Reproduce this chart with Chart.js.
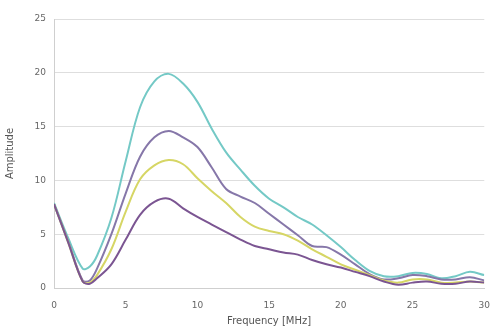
<!DOCTYPE html>
<html>
<head>
<meta charset="utf-8">
<script src="https://cdn.jsdelivr.net/npm/chart.js@4"></script>
<style>
  html, body { margin: 0; padding: 0; background: #fff; }
  #wrap { width: 494px; height: 331px; }
</style>
</head>
<body>
<div id="wrap"><canvas id="chart"></canvas></div>
<script>
// Data
const freqMHz = [0, 1, 2, 2.5, 3, 4, 5, 6, 7, 8, 9, 10, 11, 12, 13, 14, 15, 16, 17, 18, 19, 20, 21, 22, 23, 24, 25, 26, 27, 28, 29, 30];
const cyanAmp = [7.9, 4.6, 1.8, 2.0, 3.0, 6.5, 11.8, 16.8, 19.2, 19.9, 19.0, 17.3, 14.8, 12.6, 11.0, 9.5, 8.3, 7.5, 6.6, 5.9, 4.9, 3.8, 2.6, 1.6, 1.1, 1.1, 1.4, 1.3, 0.9, 1.1, 1.5, 1.2];
const purpleAmp = [7.8, 4.3, 0.7, 0.7, 1.8, 5.0, 8.8, 12.2, 14.0, 14.6, 14.0, 13.1, 11.2, 9.2, 8.5, 7.9, 6.9, 5.9, 4.9, 3.9, 3.8, 3.1, 2.2, 1.3, 0.8, 0.9, 1.2, 1.1, 0.8, 0.8, 1.0, 0.7];
const yellowAmp = [7.8, 4.2, 0.6, 0.5, 1.2, 3.6, 7.1, 10.1, 11.4, 11.9, 11.5, 10.2, 9.0, 7.9, 6.6, 5.7, 5.3, 5.0, 4.4, 3.6, 2.9, 2.2, 1.7, 1.2, 0.7, 0.5, 0.8, 0.8, 0.5, 0.5, 0.6, 0.5];
const darkAmp = [7.8, 4.2, 0.6, 0.4, 0.9, 2.2, 4.5, 6.8, 8.0, 8.3, 7.4, 6.6, 5.9, 5.2, 4.5, 3.9, 3.6, 3.3, 3.1, 2.6, 2.2, 1.9, 1.5, 1.1, 0.6, 0.3, 0.5, 0.6, 0.4, 0.4, 0.6, 0.5];
const xTitle = "Frequency [MHz]";
const yTitle = "Amplitude";

const seriesColors = ["#74c9c6", "#8677a9", "#d6d665", "#7b5592"];
const allSeries = [cyanAmp, purpleAmp, yellowAmp, darkAmp];

function toPoints(values) {
  return values.map((v, i) => ({ x: freqMHz[i], y: v }));
}

const datasets = allSeries.map((values, i) => ({
  data: toPoints(values),
  borderColor: seriesColors[i],
  borderWidth: 2,
  pointRadius: 0,
  fill: false,
  tension: 0.35,
}));

// draw the lower curves first so the cyan sits on top like in the picture
datasets.reverse();

const tickFont = { family: "DejaVu Sans", size: 9 };

new Chart(document.getElementById("chart"), {
  type: "line",
  data: { datasets: datasets },
  options: {
    responsive: true,
    maintainAspectRatio: false,
    animation: false,
    layout: { padding: { top: 19, right: 9, left: 0, bottom: 0 } },
    plugins: {
      legend: { display: false },
      tooltip: { enabled: false },
    },
    scales: {
      x: {
        type: "linear",
        min: 0,
        max: 30,
        ticks: { stepSize: 5, color: "#666", font: tickFont, padding: 4 },
        grid: { display: false },
        border: { display: true, color: "#cfcfcf", width: 1 },
        title: { display: true, text: xTitle, color: "#555", font: { family: "DejaVu Sans", size: 10 }, padding: { top: 2 } },
        afterFit: (scale) => { scale.height = 43; },
      },
      y: {
        min: 0,
        max: 25,
        ticks: { stepSize: 5, color: "#666", font: tickFont, padding: 8 },
        grid: { color: "#dedede", drawTicks: false },
        border: { display: true, color: "#cfcfcf", width: 1 },
        title: { display: true, text: yTitle, color: "#555", font: { family: "DejaVu Sans", size: 10 }, padding: { bottom: 8 } },
        afterFit: (scale) => { scale.width = 54; },
      },
    },
  },
});
</script>
</body>
</html>
